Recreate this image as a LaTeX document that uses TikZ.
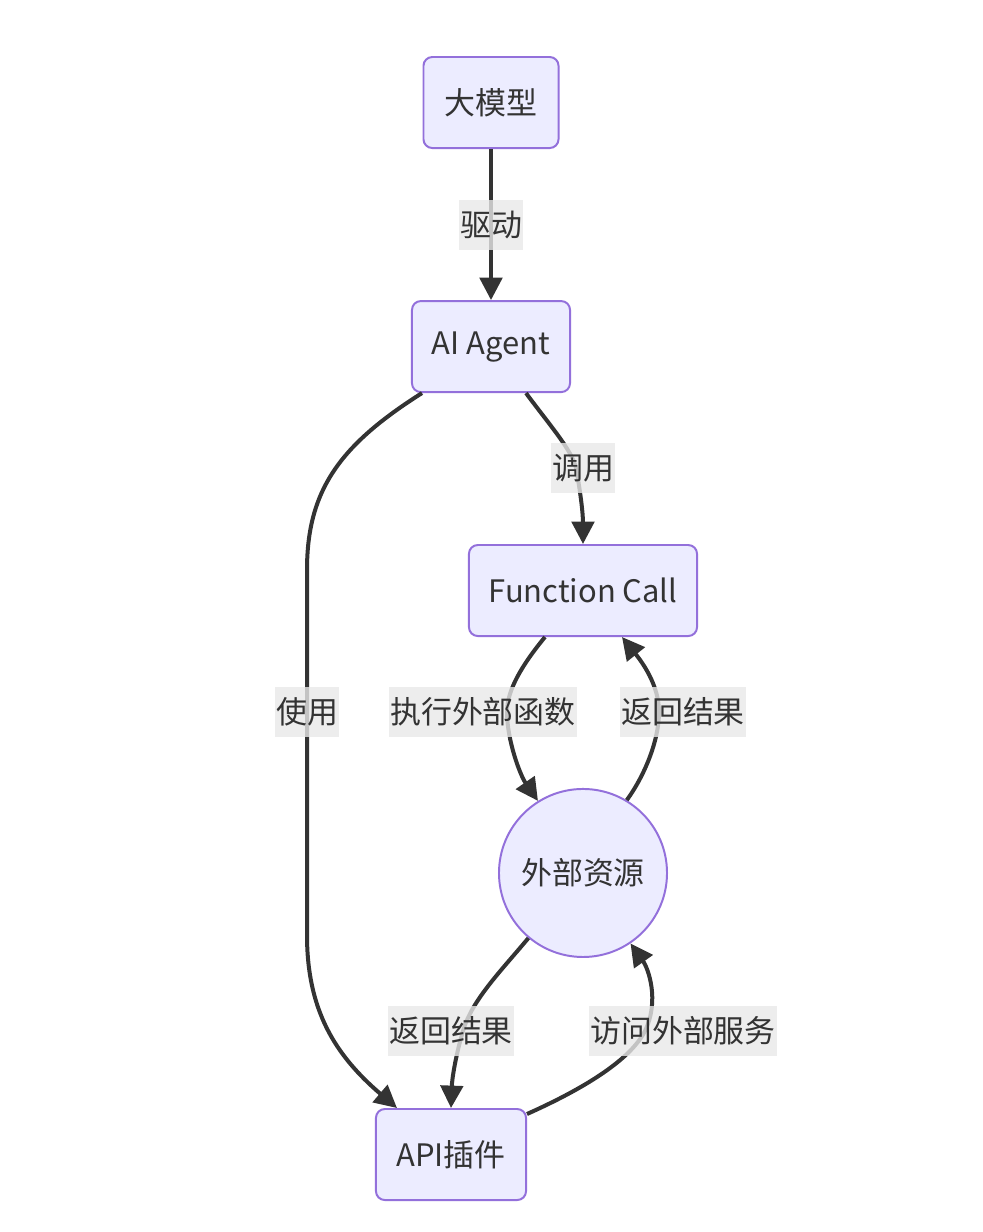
\documentclass[tikz,border=0pt]{standalone}
\usepackage{fontspec}
\usepackage{xcolor}
\usepackage{tikz}
\usetikzlibrary{arrows.meta, positioning}
\newfontfamily\cjk{Noto Sans CJK SC}
\definecolor{nodefill}{HTML}{ECECFF}
\definecolor{nodeline}{HTML}{9370DB}
\definecolor{edgeline}{HTML}{333333}
\definecolor{labelbg}{HTML}{E8E8E8}

\begin{document}
\begin{tikzpicture}[x=0.025cm,y=-0.025cm,node distance=6.1cm,
    main node/.style={rectangle,rounded corners=0.22cm,fill=nodefill,draw=nodeline,line width=1.4pt,
      text=edgeline,font=\cjk\fontsize{22pt}{26pt}\selectfont,minimum height=2.275cm,inner sep=0pt},
    round node/.style={main node,circle,minimum size=4.2cm},
    lbl/.style={fill=labelbg,fill opacity=0.8,text opacity=1,text=edgeline,
      font=\cjk\fontsize{22pt}{26pt}\selectfont,inner xsep=1pt,inner ysep=0pt,minimum height=1.25cm},
    flow/.style={draw=edgeline,line width=0.1cm,-{Triangle[length=0.56cm,width=0.56cm]}}]

  \useasboundingbox (0,0) rectangle (982,1232);

  \node[main node,minimum width=3.375cm] (llm) at (491,102.5) {大模型};
  \node[main node,minimum width=3.95cm] (agent) [below of=llm] {AI Agent};
  \node[main node,minimum width=5.7cm] (fc) at (583,590.5) {Function Call};
  \node[round node] (res) [below of=fc,node distance=7.06cm] {外部资源};
  \node[main node,minimum width=3.75cm] (api) at (451,1154.5) {API插件};

  % agent side
  \draw[flow] (llm) -- node[lbl] (l1) {驱动} (agent);
  \draw[flow] ([xshift=0.875cm]agent.south) .. controls (548,423) and (572,450) .. (576,468)
    node[lbl,xshift=0.175cm] (l2) {调用} .. controls (581,495) and (583,515) .. (fc.north);
  \draw[flow] ([xshift=-1.725cm]agent.south) .. controls (340,445) and (307,490) .. (307,570)
    -- (307,712) node[lbl] (l3) {使用} -- (307,935)
    .. controls (307,1010) and (335,1055) .. ([xshift=-1.35cm]api.north);

  % function call <-> resource
  \draw[flow] ([xshift=-0.95cm]fc.south) .. controls (522,665) and (507,690) .. (507,712)
    node[lbl,xshift=-0.6cm] (l4) {执行外部函数} .. controls (507,740) and (520,775) .. (res.122);
  \draw[flow] (res.59) .. controls (645,775) and (659,740) .. (659,712)
    node[lbl,xshift=0.6cm] (l5) {返回结果} .. controls (659,685) and (642,662) .. ([xshift=0.975cm]fc.south);

  % resource <-> api
  \draw[flow] (res.-130) .. controls (500,972) and (472,1000) .. (463,1031)
    node[lbl,xshift=-0.3cm] (l6) {返回结果} .. controls (455,1058) and (452,1080) .. (api.north);
  \draw[flow] ([yshift=-0.15cm]api.north east) .. controls (585,1088) and (630,1060) .. (645,1031)
    node[lbl,xshift=0.95cm] (l7) {访问外部服务} .. controls (660,1000) and (648,968) .. (res.-56);
\end{tikzpicture}
\end{document}
